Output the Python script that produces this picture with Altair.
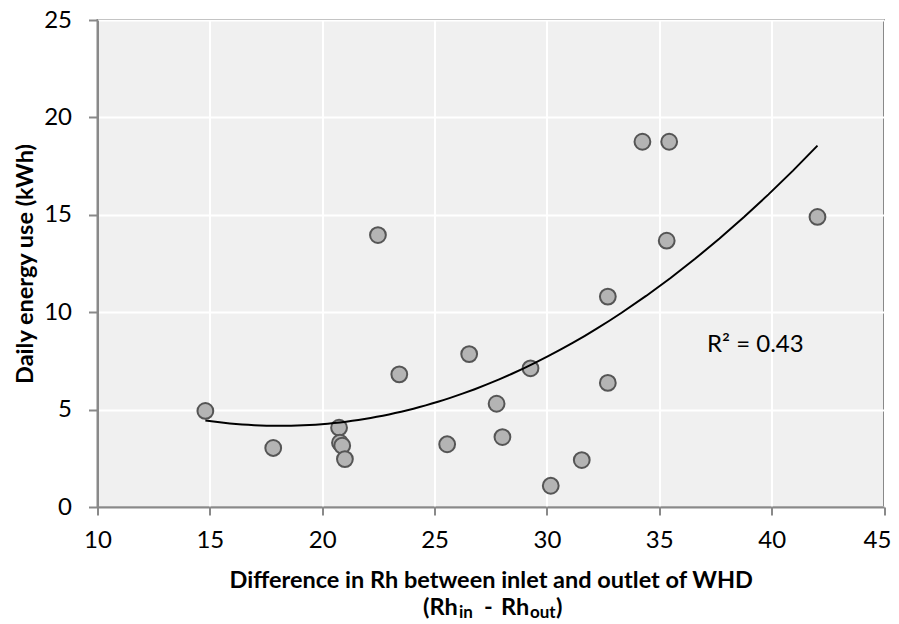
import altair as alt
import pandas as pd

# Data
rh_diff = [14.80, 17.82, 20.75, 20.79, 20.89, 21.01, 22.48, 23.43, 25.56, 26.54, 27.76,
           28.02, 29.27, 30.17, 31.55, 32.71, 32.71, 34.25, 35.33, 35.44, 42.04]
energy = [4.93, 3.03, 4.07, 3.30, 3.15, 2.46, 13.96, 6.81, 3.22, 7.85, 5.30,
          3.59, 7.12, 1.09, 2.41, 6.37, 10.80, 18.75, 13.67, 18.75, 14.89]
x_ticks = [10, 15, 20, 25, 30, 35, 40, 45]
y_ticks = [0, 5, 10, 15, 20, 25]

df = pd.DataFrame({"x": rh_diff, "y": energy})

FONT = "Lato"
GRAY = "#898989"
W, H = 786.5, 487
TFS = 23.5

xscale = alt.Scale(domain=[10, 45], nice=False, zero=False)
yscale = alt.Scale(domain=[0, 25], nice=False)

xaxis = alt.Axis(
    values=x_ticks, grid=True, gridColor="white", gridWidth=2, labelFlush=False,
    domainColor=GRAY, domainWidth=2, tickColor=GRAY, tickWidth=2, tickSize=8,
    labelFont=FONT, labelFontSize=24, labelColor="black", labelPadding=13,
    labelOffset={"condition": {"test": "datum.value == 45", "value": -7}, "value": 0},
    title="Difference in Rh between inlet and outlet of WHD",
    titleFont=FONT, titleFontSize=TFS, titleFontWeight="bold", titleColor="black",
    titleX=W / 2, titleY=80, titleAlign="center", titleBaseline="alphabetic",
)
yaxis = alt.Axis(
    values=y_ticks, grid=True, gridColor="white", gridWidth=2, labelFlush=False,
    domainColor=GRAY, domainWidth=2, tickColor=GRAY, tickWidth=2, tickSize=9,
    labelFont=FONT, labelFontSize=24, labelColor="black", labelPadding=17,
    title="Daily energy use (kWh)",
    titleFont=FONT, titleFontSize=TFS, titleFontWeight="bold", titleColor="black",
    titleX=-65.5, titleY=H / 2, titleAlign="center", titleBaseline="alphabetic",
    titleAngle=270,
)

base = alt.Chart(df)

points = base.mark_point(
    filled=True, fill="#b4b4b4", stroke="#555555", strokeWidth=2,
    size=250, opacity=1, shape="circle",
).encode(
    x=alt.X("x:Q", scale=xscale, axis=xaxis),
    y=alt.Y("y:Q", scale=yscale, axis=yaxis),
)

trend = base.transform_regression(
    "x", "y", method="poly", order=2
).mark_line(color="black", strokeWidth=2).encode(
    x=alt.X("x:Q", scale=xscale),
    y=alt.Y("y:Q", scale=yscale),
)

one = alt.Data(values=[{}])

r2 = alt.Chart(one).mark_text(
    text="R² = 0.43", font=FONT, fontSize=24, align="left", baseline="middle", color="black"
).encode(x=alt.value(609.5), y=alt.value(325))

# second line of the x-axis title with subscripts
segs = [
    ("(Rh", TFS, 423 - 97.5, 595),
    ("in", 17, 459 - 97.5, 598),
    ("-", TFS, 484 - 97.5, 595),
    ("Rh", TFS, 501 - 97.5, 595),
    ("out", 17, 530 - 97.5, 598),
    (")", TFS, 556 - 97.5, 595),
]
seg_layers = [
    alt.Chart(one).mark_text(
        text=t, font=FONT, fontSize=fs, fontWeight="bold", align="left",
        baseline="alphabetic", color="black"
    ).encode(x=alt.value(px), y=alt.value(py))
    for t, fs, px, py in segs
]

chart = alt.layer(points, trend, r2, *seg_layers).properties(
    width=W, height=H,
    autosize=alt.AutoSizeParams(type="none"),
    padding={"left": 89.5, "top": 12, "right": 7, "bottom": 117},
    background="white",
).configure_view(
    fill="#f0f0f0", stroke=GRAY, strokeWidth=2
)

chart.save("out.html", embed_options={"renderer": "svg", "actions": False})
